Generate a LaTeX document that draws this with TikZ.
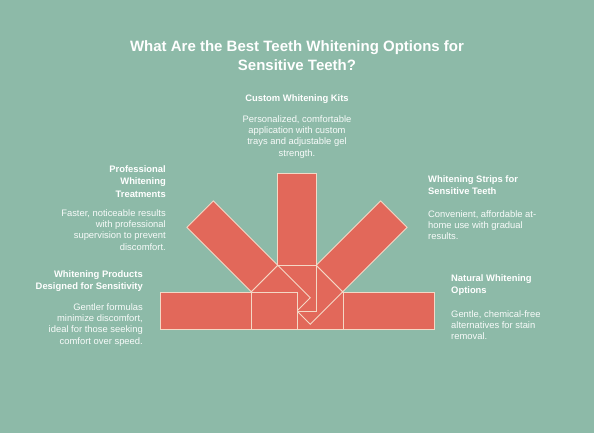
\documentclass[tikz,border=0pt]{standalone}
\usepackage{fontspec}
\setmainfont{Liberation Sans}
\definecolor{bgcol}{HTML}{8DBAA8}
\definecolor{raycol}{HTML}{E2685A}
\definecolor{edgecol}{HTML}{F4D8C6}
\tikzset{
  ray/.style={fill=raycol, draw=edgecol, line width=0.9pt, line join=miter},
  head/.style={inner sep=0pt, text=white, font=\fontsize{9.4}{12.5}\selectfont\bfseries},
  desc/.style={inner sep=0pt, text=white!94!bgcol, font=\fontsize{9.4}{11.4}\selectfont}
}
\begin{document}
\begin{tikzpicture}[x=1pt,y=-1pt]
\useasboundingbox[fill=bgcol] (0,0) rectangle (594,433);

\node[inner sep=0pt, text=white, font=\fontsize{15}{19}\selectfont\bfseries, align=center, anchor=north] (title) at (297,40) {What Are the Best Teeth Whitening Options for\\Sensitive Teeth?};

% fan, drawn from right to left
\begin{scope}[shift={(297,311)}, rotate=0]
\draw[ray] (0,-18.7) rectangle (46,18.7);
\draw[ray] (46,-18.7) rectangle (137,18.7);
\end{scope}
\begin{scope}[shift={(297,311)}, rotate=45]
\draw[ray] (0,-18.7) rectangle (46,18.7);
\draw[ray] (46,-18.7) rectangle (137,18.7);
\end{scope}
\begin{scope}[shift={(297,311)}, rotate=90]
\draw[ray] (0,-19.2) rectangle (46,19.2);
\draw[ray] (46,-19.2) rectangle (138,19.2);
\end{scope}
\begin{scope}[shift={(297,311)}, rotate=135]
\draw[ray] (0,-18.7) rectangle (46,18.7);
\draw[ray] (46,-18.7) rectangle (137,18.7);
\end{scope}
\begin{scope}[shift={(297,311)}, rotate=180]
\draw[ray] (0,-18.7) rectangle (46,18.7);
\draw[ray] (46,-18.7) rectangle (137,18.7);
\end{scope}

% top
\node[head, anchor=north] (kits) at (297,94) {Custom Whitening Kits};
\node[desc, align=center, anchor=north] (kitsdesc) at (297,115) {Personalized, comfortable\\application with custom\\trays and adjustable gel\\strength.};

% left
\node[head, align=right, anchor=north east] (pro) at (166,165) {Professional\\Whitening\\Treatments};
\node[desc, align=right, anchor=north east] (prodesc) at (166,209) {Faster, noticeable results\\with professional\\supervision to prevent\\discomfort.};
\node[head, align=right, anchor=north east] (sens) at (143,270) {Whitening Products\\Designed for Sensitivity};
\node[desc, align=right, anchor=north east] (sensdesc) at (143,303) {Gentler formulas\\minimize discomfort,\\ideal for those seeking\\comfort over speed.};

% right
\node[head, align=left, anchor=north west] (strips) at (428,175) {Whitening Strips for\\Sensitive Teeth};
\node[desc, align=left, anchor=north west] (stripsdesc) at (428,210) {Convenient, affordable at-\\home use with gradual\\results.};
\node[head, align=left, anchor=north west] (natural) at (451,274) {Natural Whitening\\Options};
\node[desc, align=left, anchor=north west] (naturaldesc) at (451,310) {Gentle, chemical-free\\alternatives for stain\\removal.};

\end{tikzpicture}
\end{document}
